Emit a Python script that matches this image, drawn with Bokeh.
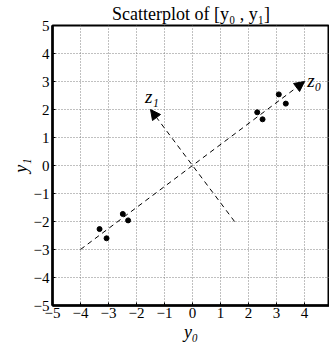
from bokeh.plotting import figure
from bokeh.models import Arrow, NormalHead, Label, Range1d, FixedTicker
from bokeh.embed import file_html
from bokeh.resources import INLINE

y0 = [-3.32, -3.07, -2.49, -2.30, 2.31, 2.50, 3.08, 3.33]
y1 = [-2.27, -2.60, -1.73, -1.96, 1.90, 1.65, 2.54, 2.21]
z0_start = (-4.0, -3.0)
z0_end = (4.0, 3.0)
z1_start = (1.5, -2.0)
z1_end = (-1.5, 2.0)
ticks = [-5, -4, -3, -2, -1, 0, 1, 2, 3, 4, 5]

FONT = "Liberation Serif"

p = figure(width=329, height=349, output_backend="svg", toolbar_location=None,
           x_range=Range1d(-5, 4.89), y_range=Range1d(-5, 5),
           min_border_left=52, min_border_right=0, min_border_top=25, min_border_bottom=44,
           title="Scatterplot of [y₀ , y₁]")
p.title.align = "center"
p.title.text_font = FONT
p.title.text_font_size = "18px"
p.title.text_font_style = "normal"
p.title.text_color = "black"
p.title.offset = 0
p.title.standoff = 3

for ax in (p.xaxis, p.yaxis):
    ax.ticker = FixedTicker(ticks=ticks)
    ax.major_label_text_font = FONT
    ax.major_label_text_font_size = "15px"
    ax.major_label_text_color = "black"
    ax.axis_line_width = 2.5
    ax.axis_line_color = "black"
    ax.major_tick_out = 0
    ax.major_tick_in = 3
    ax.major_tick_line_color = "black"
    ax.minor_tick_out = 0
    ax.minor_tick_in = 0
    ax.axis_label_text_font = FONT
    ax.axis_label_text_font_size = "18px"
    ax.axis_label_text_font_style = "italic"
    ax.axis_label_text_color = "black"
p.xaxis.axis_label = "y₀"
p.yaxis.axis_label = "y₁"
p.xaxis.major_label_standoff = 2
p.yaxis.major_label_standoff = 3
p.xaxis.axis_label_standoff = 1
p.yaxis.axis_label_standoff = 0

p.grid.grid_line_color = "#808080"
p.grid.grid_line_dash = "1 2"
p.grid.grid_line_width = 1
p.outline_line_color = "black"
p.outline_line_width = 2

p.scatter(y0, y1, size=5, color="black")

for s, e in ((z0_start, z0_end), (z1_start, z1_end)):
    p.add_layout(Arrow(x_start=s[0], y_start=s[1], x_end=e[0], y_end=e[1],
                       line_dash="5 4", line_width=1, line_color="black",
                       end=NormalHead(size=10, fill_color="black", line_color="black")))

p.add_layout(Label(x=4.1, y=3.05, text="z₀", text_font=FONT, text_font_style="italic",
                   text_font_size="19px", text_baseline="middle", text_color="black"))
p.add_layout(Label(x=-1.7, y=2.45, text="z₁", text_font=FONT, text_font_style="italic",
                   text_font_size="19px", text_baseline="middle", text_color="black"))

open("out.html", "w").write(file_html(p, INLINE))
